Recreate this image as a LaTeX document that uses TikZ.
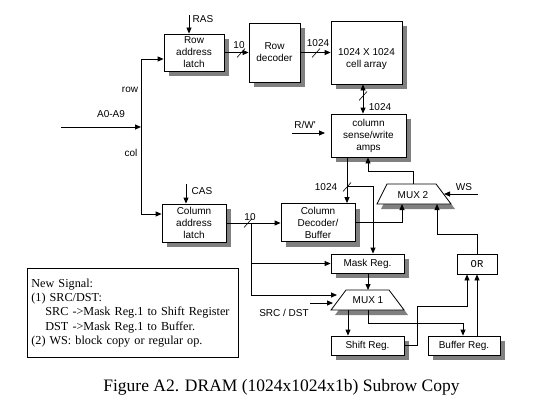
\documentclass[tikz,border=0pt]{standalone}
\usepackage{fontspec}
\setmainfont{Liberation Serif}
\newfontfamily\sansf{Liberation Sans}
\newfontfamily\monof{Liberation Mono}
\usetikzlibrary{shadows,arrows.meta,calc}
\definecolor{shadowgray}{RGB}{128,128,128}
\tikzset{
 plainbox/.style={draw, fill=white, line width=0.8pt, align=center, font=\sansf\fontsize{10}{12}\selectfont, inner sep=0pt},
 box/.style={plainbox, drop shadow={shadow xshift=5pt, shadow yshift=-5pt, fill=shadowgray, opacity=1}},
 wire/.style={line width=0.8pt},
 arr/.style={wire, -{Triangle[length=6pt,width=5pt]}},
 dblarr/.style={wire, {Triangle[length=6pt,width=5pt]}-{Triangle[length=6pt,width=5pt]}},
 lbl/.style={font=\sansf\fontsize{10}{12}\selectfont, inner sep=0pt, align=center},
 slashline/.style={line width=0.6pt},
}
\begin{document}
\begin{tikzpicture}[x=1pt,y=-1pt]
\useasboundingbox (0,0) rectangle (546,412);
% blocks
\node[box, minimum width=60pt, minimum height=37pt] (rl) at (194,52.5) {Row\\address\\latch};
\node[box, minimum width=51pt, minimum height=59pt] (rd) at (274.5,52.5) {Row\\decoder};
\node[box, minimum width=71pt, minimum height=63pt] (ca) at (366.5,52.5) {};
\node[lbl] (catext) at (366.5,59.5) {1024 X 1024\\cell array};
\node[box, minimum width=75pt, minimum height=43pt] (amps) at (368.5,135.5) {column\\sense/write\\amps};
\node[box, minimum width=64pt, minimum height=38pt] (cl) at (194,223) {Column\\address\\latch};
\node[box, minimum width=74pt, minimum height=38pt] (cd) at (318,222.5) {Column\\Decoder/\\Buffer};
\node[box, minimum width=73pt, minimum height=19pt] (mask) at (367.5,263.5) {Mask Reg.};
\node[box, minimum width=73pt, minimum height=19pt] (shift) at (367.5,345.5) {Shift Reg.};
\node[box, minimum width=72pt, minimum height=19pt] (buf) at (464,345.5) {Buffer Reg.};
\node[plainbox, minimum width=40pt, minimum height=20pt, font=\monof\fontsize{10.5}{11}\selectfont] (or) at (477,264) {OR};
% MUX 2
\fill[shadowgray] (391,189) -- (440,189) -- (455,209) -- (381,209) -- cycle;
\draw[wire, fill=white] (387,184) coordinate (m2tl) -- (436,184) coordinate (m2tr) -- (451,204) coordinate (m2br) -- (377,204) coordinate (m2bl) -- cycle;
\node[lbl] (mux2) at (413,195) {MUX 2};
% MUX 1
\fill[shadowgray] (350,295) -- (393,295) -- (408,315) -- (335,315) -- cycle;
\draw[wire, fill=white] (346,290) coordinate (m1tl) -- (389,290) coordinate (m1tr) -- (404,310) coordinate (m1br) -- (331,310) coordinate (m1bl) -- cycle;
\node[lbl] (mux1) at (368,300.5) {MUX 1};
% address inputs
\coordinate (ain) at (61,127);
\coordinate (bus) at (141,127);
\coordinate (rowturn) at (141,59);
\coordinate (colturn) at (141,214);
\draw[arr] (ain) -- (bus);
\draw[wire] (rowturn) -- (colturn);
\draw[arr] (rowturn) -- (rowturn -| rl.west);
\draw[arr] (colturn) -- (colturn -| cl.west);
\coordinate (ras) at (189,15);
\draw[arr] (ras) -- (ras |- rl.north);
\coordinate (cas) at (186,184);
\draw[arr] (cas) -- (cas |- cl.north);
% row path
\draw[arr] (rl.east) -- (rd.west);
\draw[slashline] (237,57.5) -- (245,48.5);
\draw[arr] (rd.east) -- (ca.west);
\draw[slashline] (312,57.5) -- (320,48.5);
\coordinate (colx) at (363,0);
\draw[dblarr] (ca.south -| colx) -- (amps.north -| colx);
\draw[slashline] (359,100.5) -- (367,91.5);
\coordinate (rw) at (292,133);
\coordinate (rwend) at (325,133);
\draw[arr] (rw) -- (rwend);
% column path
\coordinate (dx) at (347,0);
\draw[arr] (amps.south -| dx) -- (cd.north -| dx);
\draw[slashline] (343,191.5) -- (351,182.5);
\coordinate (br) at (347,186);
\coordinate (mx) at (373,0);
\draw[arr] (br) -| (mask.north -| mx);
\coordinate (ax) at (368,0);
\draw[arr] (mux2 |- m2tl) -- ++(0,-13) -| (amps.south -| ax);
\coordinate (ws) at (478,194);
\coordinate (m2r) at (444,194);
\draw[arr] (ws) -- (m2r);
\coordinate (m2in1) at (402,204);
\draw[arr] (cd.east) -| (m2in1);
\coordinate (orturn) at (437,234);
\coordinate (m2in2) at (437,204);
\draw[arr] (or.north) |- (orturn) -- (m2in2);
\draw[arr] (cl.east) -- (cl.east -| cd.west);
\draw[slashline] (244,227.5) -- (252,218.5);
\coordinate (cb) at (251,223);
\coordinate (cbb) at (251,295);
\draw[wire] (cb) -- (cbb);
\draw[arr] (cb |- mask.west) -- (mask.west);
\coordinate (m1in1) at (337,295);
\draw[arr] (cbb) -- (m1in1);
\coordinate (src) at (310,303);
\coordinate (m1in2) at (333,303);
\draw[arr] (src) -- (m1in2);
\draw[arr] (mask.south -| ax) -- (ax |- m1tl);
\coordinate (sx) at (348,0);
\draw[arr] (sx |- m1bl) -- (shift.north -| sx);
\coordinate (bx) at (463,323);
\draw[arr] (ax |- m1bl) |- (bx) -- (buf.north -| bx);
\coordinate (s1) at (417,306);
\coordinate (s2) at (467,306);
\draw[arr] (shift.east) -| (s1) -- (s2) -- (or.south -| s2);
\coordinate (bo) at (477,0);
\draw[arr] (buf.north -| bo) -- (or.south -| bo);
% labels
\node[lbl] (l10a) at (239,45) {10};
\node[lbl] (l1024a) at (318,43) {1024};
\node[lbl] (l1024b) at (380,107) {1024};
\node[lbl] (lrw) at (305,125) {R/W'};
\node[lbl] (l1024c) at (326,187) {1024};
\node[lbl] (lws) at (464,187) {WS};
\node[lbl] (l10b) at (250,217) {10};
\node[lbl] (lras) at (203,19) {RAS};
\node[lbl] (lcas) at (202,191) {CAS};
\node[lbl] (lrow) at (130,90) {row};
\node[lbl] (la) at (111,114) {A0-A9};
\node[lbl] (lcol) at (131,153) {col};
\node[lbl] (lsrc) at (284,313) {SRC / DST};
% legend
\node[draw, line width=0.8pt, anchor=north west, minimum width=211pt, minimum height=89pt, text width=203pt, inner xsep=4pt, inner ysep=0pt, align=left, font=\fontsize{12.2}{14.3}\selectfont] (legend) at (27,268) {New Signal:\\(1) SRC/DST:\\\hspace*{14pt}SRC ->Mask Reg.1 to Shift Register\\\hspace*{14pt}DST ->Mask Reg.1 to Buffer.\\(2) WS: block copy or regular op.};
% caption
\node[font=\fontsize{17.5}{20}\selectfont, inner sep=0pt] (cap) at (281.5,387) {Figure A2. DRAM (1024x1024x1b) Subrow Copy};
\end{tikzpicture}
\end{document}
